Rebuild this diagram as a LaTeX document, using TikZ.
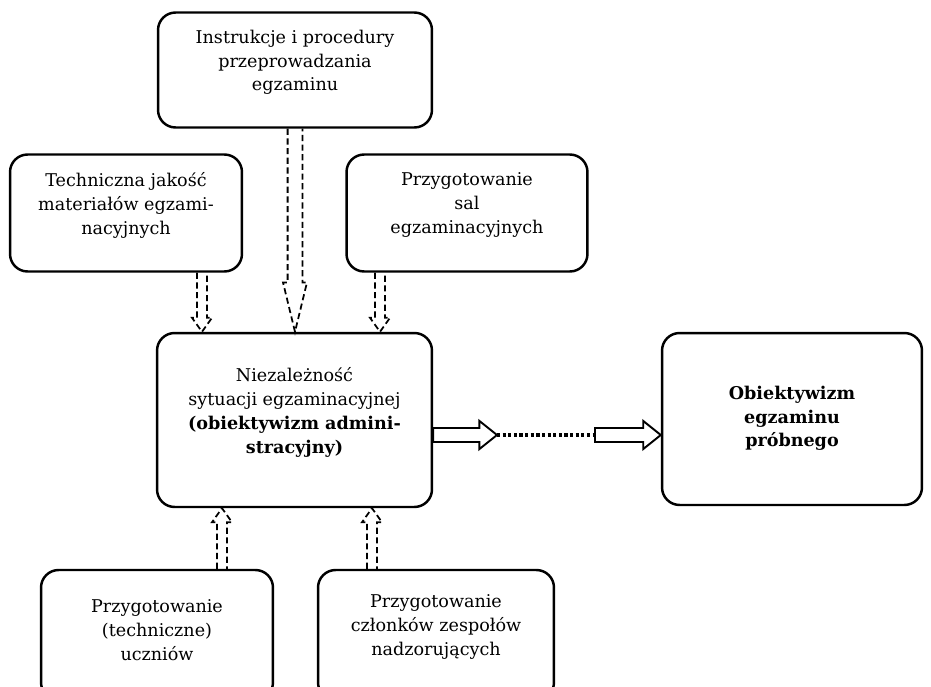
\documentclass[tikz,border=0pt]{standalone}
\usepackage{fontspec}
\setmainfont{DejaVu Serif}
\usetikzlibrary{calc}
\tikzset{>=latex}
\tikzset{
    box/.style={draw, line width=1.4pt, rounded corners=10pt, align=center,
        text depth=11pt, font=\fontsize{10}{13.6}\selectfont},
    hollow/.style n args={3}{line width=1pt, dash pattern=on 3.5pt off 2pt,
        to path={let \p1=(\tikztostart), \p2=(\tikztotarget), \n1={sign(\y1-\y2)} in
            ({\x1-#1},\y1) -- ({\x1-#1},{\y2+\n1*#3}) -- ({\x1-#2},{\y2+\n1*#3})
            -- (\x1,\y2) -- ({\x1+#2},{\y2+\n1*#3}) -- ({\x1+#1},{\y2+\n1*#3})
            -- ({\x1+#1},\y1)}},
    bigarrow/.style={line width=1.1pt,
        to path={let \p1=(\tikztostart), \p2=(\tikztotarget) in
            (\x1,{\y1+4pt}) -- ({\x2-10pt},{\y1+4pt}) -- ({\x2-10pt},{\y1+8pt})
            -- (\x2,\y1) -- ({\x2-10pt},{\y1-8pt}) -- ({\x2-10pt},{\y1-4pt})
            -- (\x1,{\y1-4pt}) -- cycle}},
    dotline/.style={line width=1.8pt, dash pattern=on 1.8pt off 1.4pt}
}

\begin{document}
\begin{tikzpicture}[x=0.02cm, y=-0.02cm]
    \useasboundingbox (0, 0) rectangle (931, 687);
    \clip (0, 0) rectangle (931, 687);
    % boxes
    \node[box, minimum width=5.48cm, minimum height=2.3cm](instr) at(295, 70){Instrukcje i procedury\\przeprowadzania\\egzaminu};
    \node[box, minimum width=4.64cm, minimum height=2.34cm](tech) at(126, 213){Techniczna jakość\\materiałów egzami-\\nacyjnych};
    \node[box, minimum width=4.82cm, minimum height=2.34cm](sal) at(467, 213){Przygotowanie\\sal\\egzaminacyjnych};
    \node[box, minimum width=5.5cm, minimum height=3.48cm](central) at(294.5, 420){Niezależność\\sytuacji egzaminacyjnej\\\textbf{(obiektywizm admini-}\\\textbf{stracyjny)}};
    \node[box, minimum width=5.2cm, minimum height=3.44cm, text depth=3pt, font=\fontsize{10}{13.6}\selectfont\bfseries](result) at(792, 419){Obiektywizm\\egzaminu\\próbnego};
    \node[box, minimum width=4.64cm, minimum height=2.6cm, text depth=6pt](uczn) at(157, 635){Przygotowanie\\(techniczne)\\uczniów};
    \node[box, minimum width=4.72cm, minimum height=2.6cm](nadz) at(436, 635){Przygotowanie\\członków zespołów\\nadzorujących};
    % arrow columns
    \coordinate (techcol) at(202, 0);
    \coordinate (salcol) at(380, 0);
    \coordinate (uczncol) at(222, 0);
    \coordinate (nadzcol) at(372, 0);
    \draw[hollow={2.8pt}{5.7pt}{8pt}](tech.south -| techcol) to (central.north -| techcol);
    \draw[hollow={4.2pt}{6.8pt}{28pt}](instr.south) to (central.north);
    \draw[hollow={2.8pt}{5.7pt}{8pt}](sal.south -| salcol) to (central.north -| salcol);
    \draw[hollow={2.8pt}{5.7pt}{8pt}](uczn.north -| uczncol) to (central.south -| uczncol);
    \draw[hollow={2.8pt}{5.7pt}{8pt}](nadz.north -| nadzcol) to (central.south -| nadzcol);
    % right arrow
    \coordinate (dotstart) at(497, 435);
    \coordinate (dotend) at(595, 435);
    \draw[bigarrow](central.east |- dotstart) to (dotstart);
    \draw[dotline](dotstart) -- (dotend);
    \draw[bigarrow](dotend) to (result.west |- dotend);
\end{tikzpicture}
\end{document}
